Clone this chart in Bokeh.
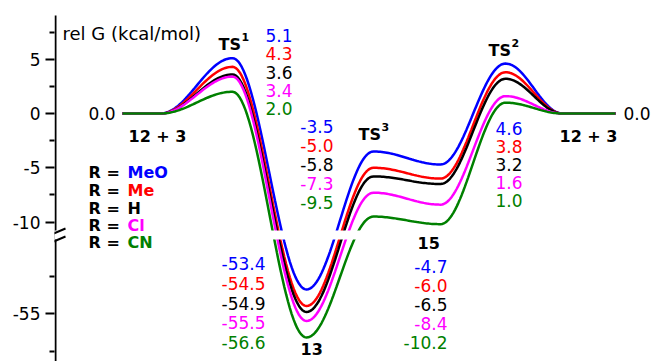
import numpy as np
from bokeh.plotting import figure
from bokeh.models import Range1d, LinearAxis, FixedTicker, Arrow
from bokeh.core.properties import value
from bokeh.embed import file_html
from bokeh.resources import INLINE

# ---------------- data ----------------
substituents = ["MeO", "Me", "H", "Cl", "CN"]
series_colors = ["#0000FF", "#FF0000", "#000000", "#FF00FF", "#008000"]
g_start = [0.0, 0.0, 0.0, 0.0, 0.0]        # 12 + 3
g_ts1 = [5.1, 4.3, 3.6, 3.4, 2.0]           # TS1
g_13 = [-53.4, -54.5, -54.9, -55.5, -56.6]  # 13
g_ts3 = [-3.5, -5.0, -5.8, -7.3, -9.5]      # TS3
g_15 = [-4.7, -6.0, -6.5, -8.4, -10.2]      # 15
g_ts2 = [4.6, 3.8, 3.2, 1.6, 1.0]           # TS2
g_end = [0.0, 0.0, 0.0, 0.0, 0.0]           # 12 + 3
upper_ticks = [5, 0, -5, -10]
lower_ticks = [-55]
upper_minor = [7.5, 2.5, -2.5, -7.5]
lower_minor = [-52.5, -57.5]

# ---------------- layout helpers ----------------
W, H = 654, 361
BL = 54                      # left border (axis)
FW = W - BL                  # frame width in px -> x data units = px
PX_UP = 10.85                # px per kcal/mol, upper panel
PX_LO = 15.0                 # px per kcal/mol, lower panel
Y0 = 113.0                   # px of G = 0
Y55 = 313.0                  # px of G = -55
D55 = (Y0 - Y55) / PX_UP
RATIO = PX_LO / PX_UP


def disp(v):
    v = np.asarray(v, dtype=float)
    return np.where(v > -30, v, D55 + (v + 55.0) * RATIO)


def rx(px):
    return px - BL


def ry(py):
    return (Y0 - py) / PX_UP


Y_TOP = Y0 / PX_UP
Y_BOT = (Y0 - H) / PX_UP

# reaction-coordinate positions of the knots (plateau, TS1, 13, TS3, 15, TS2, plateau)
knot_x = [rx(122), rx(160), rx(232), rx(306), rx(373), rx(440), rx(505), rx(562), rx(615)]


def profile(kx, ky, n=40):
    xs, ys = [], []
    for i in range(len(kx) - 1):
        t = np.linspace(0.0, 1.0, n, endpoint=False)
        s = (1.0 - np.cos(np.pi * t)) / 2.0
        xs.append(kx[i] + (kx[i + 1] - kx[i]) * t)
        ys.append(ky[i] + (ky[i + 1] - ky[i]) * s)
    xs.append([kx[-1]])
    ys.append([ky[-1]])
    return np.concatenate(xs), np.concatenate(ys)


p = figure(width=W, height=H, output_backend="svg", toolbar_location=None,
           x_range=Range1d(0, FW), y_range=Range1d(Y_BOT, Y_TOP),
           x_axis_location=None, y_axis_location=None,
           min_border_left=BL, min_border_right=0, min_border_top=0, min_border_bottom=0)
p.outline_line_color = None
p.background_fill_color = "white"
p.border_fill_color = "white"
p.xgrid.visible = False
p.ygrid.visible = False

major = [float(round(float(disp(t)), 6)) for t in upper_ticks + lower_ticks]
minor = [float(round(float(disp(t)), 6)) for t in upper_minor + lower_minor]
overrides = {m: str(t) for m, t in zip(major, upper_ticks + lower_ticks)}
yaxis = LinearAxis(ticker=FixedTicker(ticks=major, minor_ticks=minor),
                   major_label_overrides=overrides,
                   axis_line_color=None,
                   major_tick_out=9, major_tick_in=0, minor_tick_out=5, minor_tick_in=0,
                   major_tick_line_width=2, minor_tick_line_width=2,
                   major_label_standoff=5,
                   major_label_text_font="DejaVu Sans",
                   major_label_text_font_size="17px",
                   major_label_text_color="black")
p.add_layout(yaxis, "left")

# axis line (drawn as glyph so the break gap can interrupt it)
p.segment(x0=[1], y0=[ry(15)], x1=[1], y1=[Y_BOT], line_color="black", line_width=2)

# energy profiles
for i in range(len(substituents)):
    vals = [g_start[i], g_start[i], g_ts1[i], g_13[i], g_ts3[i], g_15[i], g_ts2[i], g_end[i], g_end[i]]
    xs, ys = profile(knot_x, disp(vals))
    p.line(xs, ys, line_color=series_colors[i], line_width=2.5)

# axis break gap
gap_top, gap_bot = ry(230), ry(239)
p.quad(left=[0], right=[FW], top=[gap_top], bottom=[gap_bot], fill_color="white", line_color=None)
for cy in (232.0, 240.0):
    p.add_layout(Arrow(end=None, x_start=rx(46), y_start=ry(cy + 4), x_end=rx(65), y_end=ry(cy - 4),
                       line_color="black", line_width=2))

FONT = value("DejaVu Sans")


def txt(x, y, t, color="black", size="17px", bold=False, align="left"):
    p.text(x=x, y=y, text=t, text_color=color, text_font=FONT, text_font_size=size,
           text_font_style="bold" if bold else "normal", text_align=align, text_baseline="middle")


# axis title
txt([rx(62)], [ry(33)], ["rel G (kcal/mol)"], size="18px")


# value columns
def column(vals, px, py0, step, align):
    ys = [ry(py0 + k * step) for k in range(len(vals))]
    txt([rx(px)] * len(vals), ys, [f"{v:.1f}" for v in vals], color=series_colors, align=align)


column(g_ts1, 265, 35, 18.3, "left")
column(g_ts3, 333, 126, 19.0, "right")
column(g_13, 265, 263, 19.75, "right")
column(g_15, 447, 266, 19.0, "right")
column(g_ts2, 522, 128, 18.0, "right")
txt([rx(115)], [ry(113)], [f"{g_start[0]:.1f}"], align="right")
txt([rx(623)], [ry(113)], [f"{g_end[0]:.1f}"], align="left")

# stage labels
txt([rx(128), rx(559)], [ry(136), ry(136)], ["12 + 3", "12 + 3"], size="16px", bold=True)
txt([rx(300)], [ry(348)], ["13"], size="16px", bold=True)
txt([rx(417)], [ry(242)], ["15"], size="16px", bold=True)
txt([rx(218), rx(358), rx(488)], [ry(44), ry(134), ry(50)], ["TS", "TS", "TS"], size="16px", bold=True)
txt([rx(241), rx(381), rx(511)], [ry(36), ry(126), ry(42)], ["1", "3", "2"], size="11px", bold=True)

# legend
ly = [172, 190, 208, 225, 242]
txt([rx(88)] * 5, [ry(v) for v in ly], ["R ="] * 5, size="16px", bold=True)
txt([rx(127)] * 5, [ry(v) for v in ly], substituents, color=series_colors, size="16px", bold=True)

open("out.html", "w").write(file_html(p, INLINE))
